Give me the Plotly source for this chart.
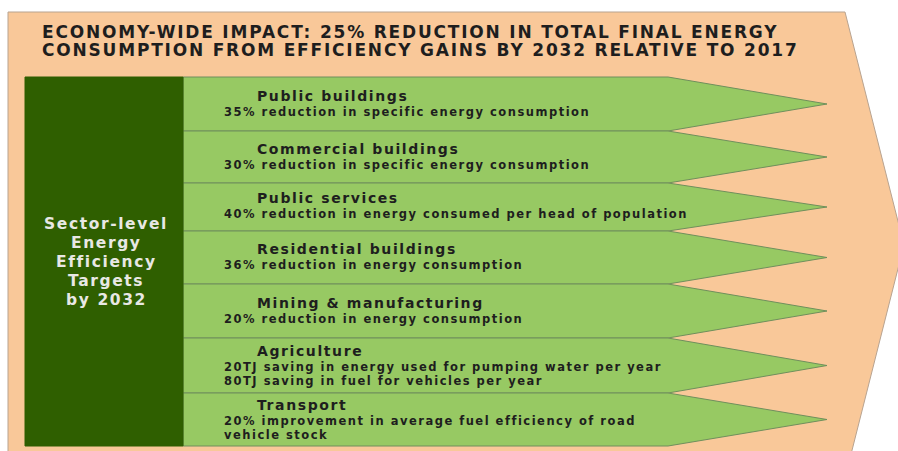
import plotly.graph_objects as go

# header text
title_lines = [
    "ECONOMY-WIDE IMPACT: 25% REDUCTION IN TOTAL FINAL ENERGY",
    "CONSUMPTION FROM EFFICIENCY GAINS BY 2032 RELATIVE TO 2017",
]
side_label = ["Sector-level", "Energy", "Efficiency", "Targets", "by 2032"]

# sectors and their targets
sectors = [
    "Public buildings",
    "Commercial buildings",
    "Public services",
    "Residential buildings",
    "Mining & manufacturing",
    "Agriculture",
    "Transport",
]
targets = [
    ["35% reduction in specific energy consumption"],
    ["30% reduction in specific energy consumption"],
    ["40% reduction in energy consumed per head of population"],
    ["36% reduction in energy consumption"],
    ["20% reduction in energy consumption"],
    ["20TJ saving in energy used for pumping water per year",
     "80TJ saving in fuel for vehicles per year"],
    ["20% improvement in average fuel efficiency of road",
     "vehicle stock"],
]
# row edges (top of each row, last = bottom of last row)
row_edges = [77, 131, 183, 231, 284, 338, 393, 446]

PEACH = "#F9C899"
DARK = "#2F5F00"
LIGHT = "#97C963"
W, H = 898, 451


def spaced(t, px):
    # the source text is a bit stretched sideways, mimic it with letter spacing
    return '<span style="letter-spacing:%.1fpx">%s</span>' % (px, t)


fig = go.Figure()

# big background arrow
fig.add_trace(go.Scatter(
    x=[8, 845, 904, 845, 8, 8], y=[12, 12, 245, 478, 478, 12],
    mode="lines", fill="toself", fillcolor=PEACH,
    line=dict(color="#B8A390", width=1), hoverinfo="skip"))

# sector arrows
x0, x_rect, x_tip = 183, 668, 827
for i in range(len(sectors)):
    top, bot = row_edges[i], row_edges[i + 1]
    mid = (top + bot) / 2
    fig.add_trace(go.Scatter(
        x=[x0, x_rect, x_tip, x_rect, x0, x0], y=[top, top, mid, bot, bot, top],
        mode="lines", fill="toself", fillcolor=LIGHT,
        line=dict(color="#6F8F5C", width=1), hoverinfo="skip"))

# dark green side box
fig.add_trace(go.Scatter(
    x=[25, 183, 183, 25, 25], y=[77, 77, 446, 446, 77],
    mode="lines", fill="toself", fillcolor=DARK,
    line=dict(color=DARK, width=1), hoverinfo="skip"))

ann = []
for j, t in enumerate(title_lines):
    ann.append(dict(x=40, y=32 + j * 18, text=spaced(t, 1.8), xanchor="left", yanchor="middle",
                    font=dict(size=17, color="#1E1E1E", family="DejaVu Sans", weight="bold")))
for j, t in enumerate(side_label):
    ann.append(dict(x=106, y=224 + j * 19, text=spaced(t, 1.6), xanchor="center", yanchor="middle",
                    font=dict(size=15.5, color="#E8E8E4", family="DejaVu Sans", weight="bold")))
title_y = [96, 149, 198, 249, 303, 351, 405]
for i, s in enumerate(sectors):
    ann.append(dict(x=255, y=title_y[i], text=spaced(s, 1.6), xanchor="left", yanchor="middle",
                    font=dict(size=14, color="#1E1E1E", family="DejaVu Sans", weight="bold")))
    for k, line in enumerate(targets[i]):
        ann.append(dict(x=222, y=title_y[i] + 16 + k * 14, text=spaced(line, 1.5),
                        xanchor="left", yanchor="middle",
                        font=dict(size=11.5, color="#1E1E1E", family="DejaVu Sans", weight="bold")))
for a in ann:
    a.update(xref="x", yref="y", showarrow=False)

fig.update_layout(
    width=W, height=H, margin=dict(l=0, r=0, t=0, b=0),
    paper_bgcolor="white", plot_bgcolor="white", showlegend=False,
    xaxis=dict(range=[0, W], visible=False, fixedrange=True),
    yaxis=dict(range=[H, 0], visible=False, fixedrange=True),
    annotations=ann,
)

fig.write_html("out.html", config={"displayModeBar": False},
               post_script="document.body.style.margin='0';")
